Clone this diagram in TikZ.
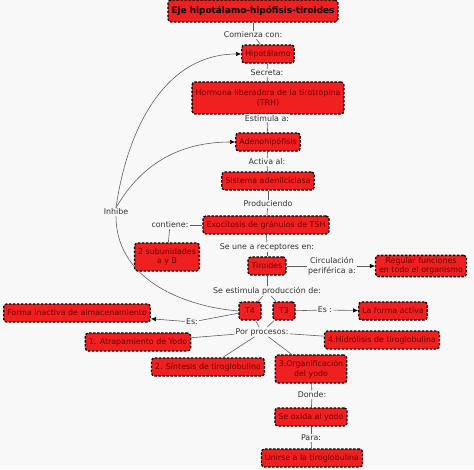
\documentclass[tikz,border=0pt]{standalone}
\usepackage{fontspec}
\setmainfont{DejaVu Sans}
\usepackage{xcolor}
\usetikzlibrary{arrows.meta, positioning, calc}

\definecolor{bgcol}{RGB}{248,248,248}
\definecolor{conred}{RGB}{240,32,32}
\definecolor{contxt}{RGB}{105,0,0}
\definecolor{linkgray}{RGB}{95,95,95}

\begin{document}
\begin{tikzpicture}[x=1pt, y=-1pt,
    concept/.style={draw=black, fill=conred, dash pattern=on 2.5pt off 1.5pt,
      line width=1.3pt, rounded corners=3pt, text=contxt,
      font=\fontsize{7.9}{9.6}\selectfont, inner xsep=3.5pt, inner ysep=2pt,
      minimum height=18pt, align=center},
    linkw/.style={fill=bgcol, text=black!80, font=\fontsize{7.9}{9.6}\selectfont,
      inner sep=1pt, align=center},
    conn/.style={draw=linkgray, line width=0.6pt},
    arr/.style={conn, -{Latex[length=5pt, width=4.5pt, color=black]}}
  ]
  \fill[bgcol] (0,0) rectangle (474,469);
  \useasboundingbox (0,0) rectangle (474,469);

  % main chain
  \node[concept, text=black, font=\fontsize{8.9}{10}\bfseries, minimum height=22pt] (title) at (253,11) {Eje hipotálamo-hipófisis-tiroides};
  \node[linkw] (comienza) at (253,35) {Comienza con:};
  \node[concept] (hipo) at (268,54) {Hipotálamo};
  \node[linkw] (secreta) at (267,73) {Secreta:};
  \node[concept, minimum height=32pt] (trh) at (268,98) {Hormona liberadora de la tirotropina\\(TRH)};
  \node[linkw] (estimula) at (267,118) {Estímula a:};
  \node[concept] (adeno) at (268,142) {Adenohipófisis};
  \node[linkw] (activa) at (267,162) {Activa al:};
  \node[concept] (sist) at (268,181) {Sistema adenilciclasa};
  \node[linkw] (produce) at (268,204) {Produciendo};
  \node[concept] (exo) at (266,225) {Exocitosis de gránulos de TSH};
  \node[linkw] (contiene) at (170,225) {contiene:};
  \node[concept, minimum height=28pt] (sub) at (167,257) {2 subunidades\\a y B};
  \node[linkw] (seune) at (267,247) {Se une a receptores en:};
  \node[concept] (tir) at (267,266) {Tiroides};
  \node[linkw] (circ) at (332,266) {Circulación\\periférica a:};
  \node[concept] (regular) at (421,266) {Regular funciones\\en todo el organismo};
  \node[linkw] (seestim) at (267,291) {Se estimula producción de:};

  % hormonas
  \node[concept, minimum width=22pt] (t4) at (250,311) {T4};
  \node[concept, minimum width=22pt] (t3) at (284,311) {T3};
  \node[linkw] (esa) at (325,310) {Es :};
  \node[concept] (activa2) at (393,311) {La forma activa};
  \node[linkw] (esi) at (192,322) {Es:};
  \node[concept] (inact) at (77,313) {Forma inactiva de almacenamiento};
  \node[linkw] (inhibe) at (116,212) {Inhibe};

  % procesos
  \node[linkw] (procesos) at (262,332) {Por procesos:};
  \node[concept] (p1) at (138,342) {1. Atrapamiento de Yodo};
  \node[concept] (p4) at (382,340) {4.Hidrólisis de tiroglobulina};
  \node[concept] (p2) at (208,367) {2. Síntesis de tiroglobulina};
  \node[concept, minimum height=28pt] (p3) at (311,369) {3.Organificación\\del yodo};
  \node[linkw] (donde) at (312,395) {Donde:};
  \node[concept] (oxida) at (311,417) {Se oxida al yodo};
  \node[linkw] (para) at (311,438) {Para:};
  \node[concept] (unirse) at (312,458) {Unirse a la tiroglobulina};

  % connectors
  \draw[conn] (title) -- (comienza);
  \draw[conn] (comienza) -- (hipo);
  \draw[conn] (hipo) -- (secreta);
  \draw[conn] (secreta) -- (trh);
  \draw[conn] (trh) -- (estimula);
  \draw[conn] (estimula) -- (adeno);
  \draw[conn] (adeno) -- (activa);
  \draw[conn] (activa) -- (sist);
  \draw[conn] (sist) -- (produce);
  \draw[conn] (produce) -- (exo);
  \draw[conn] (exo) -- (contiene);
  \draw[conn] (contiene) -- (sub);
  \draw[conn] (exo) -- (seune);
  \draw[conn] (seune) -- (tir);
  \draw[conn] (tir) -- (circ);
  \draw[arr] (circ) -- (regular);
  \draw[conn] (tir) -- (seestim);
  \draw[conn] (seestim) -- (t4);
  \draw[conn] (seestim) -- (t3);
  \draw[conn] (t3) -- (esa);
  \draw[arr] (esa) -- (activa2);
  \draw[conn] (t4) -- (esi);
  \draw[arr] (esi) -- (inact);
  \draw[conn] (t4.west) to[out=175, in=-90] (inhibe.south);
  \draw[arr] (inhibe.north) to[out=82, in=180] (hipo.west);
  \draw[arr] (inhibe.north) to[out=60, in=180] (adeno.west);
  \draw[conn] (t4) -- (procesos);
  \draw[conn] (t3) -- (procesos);
  \draw[conn] (procesos) -- (p1);
  \draw[conn] (procesos) -- (p4);
  \draw[conn] (procesos) -- (p2);
  \draw[conn] (procesos) -- (p3);
  \draw[conn] (p3) -- (donde);
  \draw[conn] (donde) -- (oxida);
  \draw[conn] (oxida) -- (para);
  \draw[conn] (para) -- (unirse);
\end{tikzpicture}
\end{document}
